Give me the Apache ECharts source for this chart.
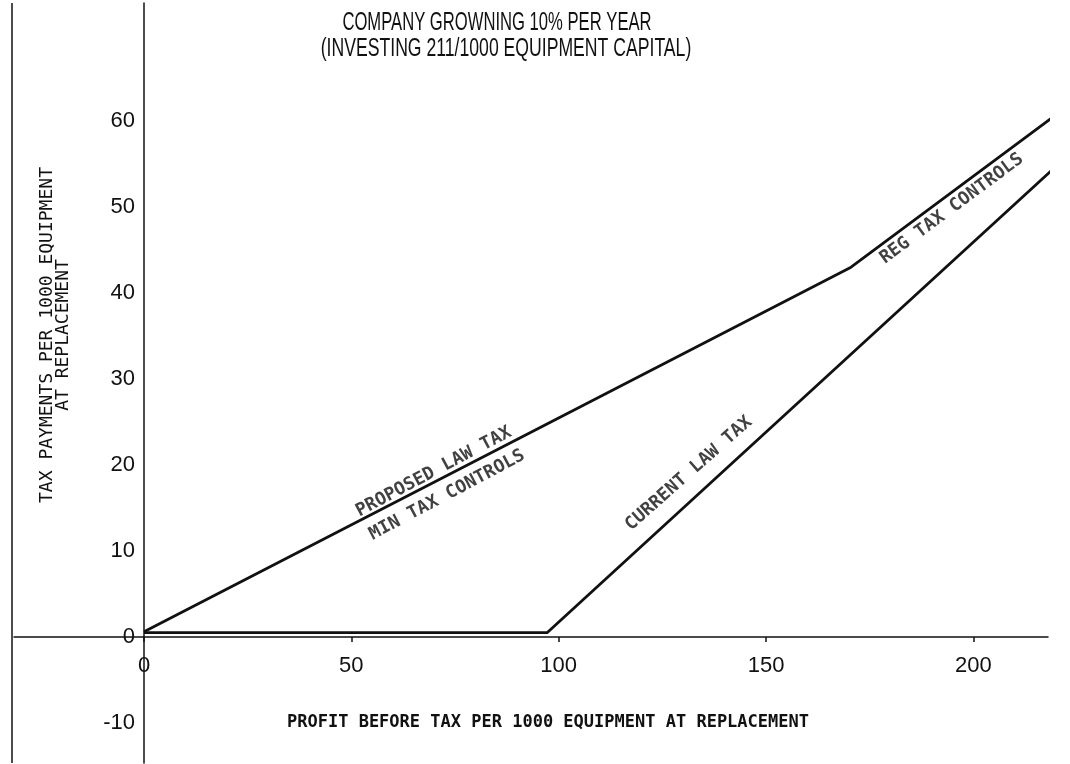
<!DOCTYPE html>
<html>
<head>
<meta charset="utf-8">
<script src="https://cdn.jsdelivr.net/npm/echarts@6/dist/echarts.min.js"></script>
<style>
html,body{margin:0;padding:0;background:#fff;}
#chart{width:1070px;height:764px;}
</style>
</head>
<body>
<div id="chart"></div>
<script>
// ---- data ----
const proposedProfit = [0, 170.5, 222.1];
const proposedTax    = [0.6, 43.0, 61.5];
const currentProfit  = [0, 97.2, 222.8];
const currentTax     = [0.5, 0.5, 56.0];
const xTickValues = [0, 50, 100, 150, 200];
const yTickValues = [-10, 0, 10, 20, 30, 40, 50, 60];
const titleLines = ['COMPANY GROWNING 10% PER YEAR', '(INVESTING 211/1000 EQUIPMENT CAPITAL)'];
const xAxisTitle = 'PROFIT BEFORE TAX PER 1000 EQUIPMENT AT REPLACEMENT';
const yAxisTitleLines = ['TAX PAYMENTS PER 1000 EQUIPMENT', 'AT REPLACEMENT'];
const annotationTexts = ['PROPOSED LAW TAX', 'MIN TAX CONTROLS', 'CURRENT LAW TAX', 'REG TAX CONTROLS'];

// ---- layout / style ----
const annotationPlace = [[69.9, 19.2, 28], [73.1, 16.5, 28], [131.4, 19.0, 41.5], [194.8, 49.8, 36.5]];
const INK = '#111';
const MONO = "'DejaVu Sans Mono', monospace";
const NARROW = "'Liberation Sans', sans-serif";
const GRID = { left: 14, right: 22, top: 3, bottom: 1 };
const X_MIN = -31.35, X_MAX = 218.0, Y_MIN = -14.65, Y_MAX = 73.72;
const plotW = 1070 - GRID.left - GRID.right, plotH = 764 - GRID.top - GRID.bottom;
// axis lines sit at the zero of the other axis
const yAxisShift = (0 - X_MIN) / (X_MAX - X_MIN) * plotW;
const xAxisShift = (0 - Y_MIN) / (Y_MAX - Y_MIN) * plotH;

const chart = echarts.init(document.getElementById('chart'));
const zip = (a, b) => a.map((v, i) => [v, b[i]]);

chart.setOption({
  animation: false,
  backgroundColor: '#fff',
  grid: Object.assign({ containLabel: false, outerBoundsMode: 'none' }, GRID),
  xAxis: {
    type: 'value', position: 'bottom', offset: -xAxisShift,
    min: X_MIN, max: X_MAX,
    splitLine: { show: false },
    axisLine: { onZero: false, lineStyle: { color: INK, width: 1.5 } },
    axisTick: { show: true, customValues: xTickValues, length: 5, lineStyle: { color: INK, width: 1.5 } },
    axisLabel: { customValues: xTickValues, margin: 18, fontFamily: NARROW, fontSize: 22, color: INK }
  },
  yAxis: {
    type: 'value', position: 'left', offset: -yAxisShift,
    min: Y_MIN, max: Y_MAX,
    splitLine: { show: false },
    axisLine: { onZero: false, lineStyle: { color: INK, width: 1.5 } },
    axisTick: { show: false },
    axisLabel: { customValues: yTickValues, margin: 9, fontFamily: NARROW, fontSize: 22, color: INK }
  },
  graphic: [
    { type: 'line', shape: { x1: 12, y1: 3, x2: 12, y2: 763 }, style: { stroke: INK, lineWidth: 1.5 } },
    { type: 'text', x: 497, y: 23, scaleX: 0.665,
      style: { text: titleLines[0], font: "25px " + NARROW, fill: INK, textAlign: 'center', textVerticalAlign: 'middle' } },
    { type: 'text', x: 506, y: 49, scaleX: 0.705,
      style: { text: titleLines[1], font: "25px " + NARROW, fill: INK, textAlign: 'center', textVerticalAlign: 'middle' } },
    { type: 'text', x: 548, y: 723,
      style: { text: xAxisTitle, font: "bold 17px " + MONO, fill: INK, textAlign: 'center', textVerticalAlign: 'middle' } },
    { type: 'text', x: 55, y: 335, rotation: Math.PI / 2,
      style: { text: yAxisTitleLines.join('\n'), font: "18px " + MONO, fill: INK, textAlign: 'center', textVerticalAlign: 'middle', lineHeight: 16 } }
  ],
  series: [
    { name: 'Proposed law tax', type: 'line', data: zip(proposedProfit, proposedTax), symbol: 'none', clip: false,
      lineStyle: { color: INK, width: 2.8 } },
    { name: 'Current law tax', type: 'line', data: zip(currentProfit, currentTax), symbol: 'none', clip: false,
      lineStyle: { color: INK, width: 2.8 } },
    { name: 'labels', type: 'scatter', symbolSize: 0, clip: false, silent: true,
      data: annotationTexts.map((t, i) => ({
        name: t, value: [annotationPlace[i][0], annotationPlace[i][1]],
        label: { rotate: annotationPlace[i][2] }
      })),
      label: { show: true, position: 'inside', formatter: p => p.name, fontFamily: MONO, fontWeight: 'bold', fontSize: 18, color: INK }
    }
  ]
});
</script>
</body>
</html>
